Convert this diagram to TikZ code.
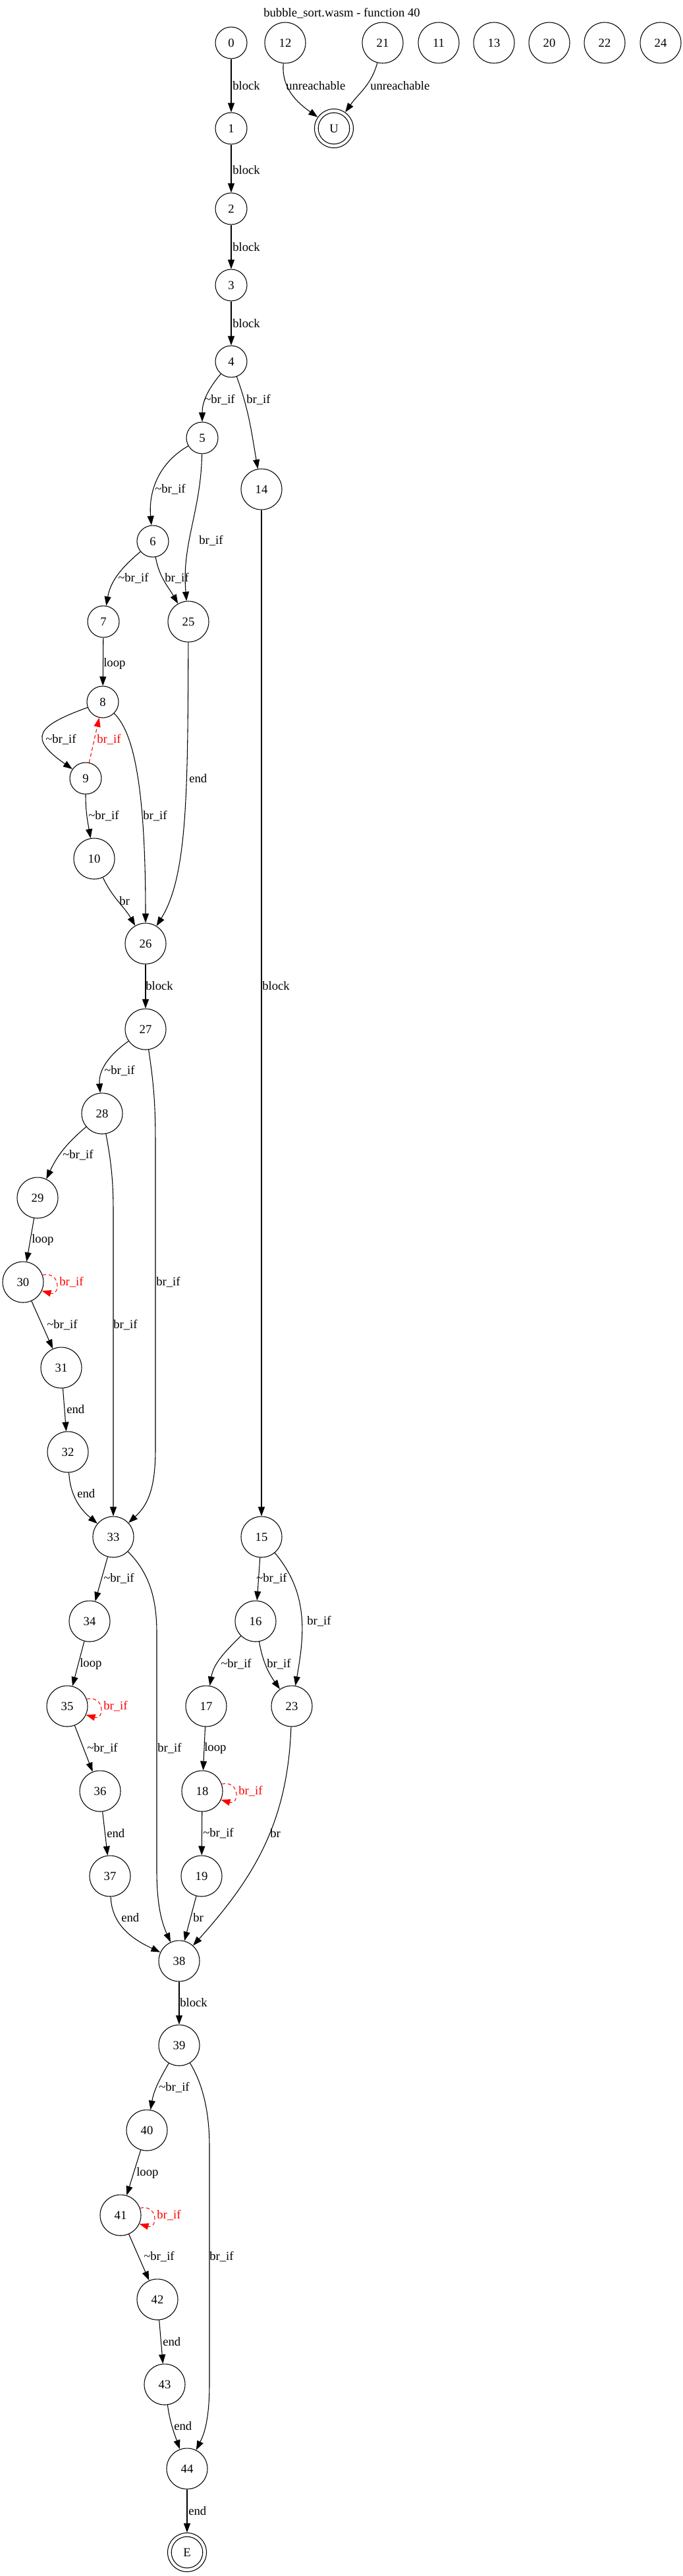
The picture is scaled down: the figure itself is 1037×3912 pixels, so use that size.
\documentclass[tikz,border=0pt]{standalone}
\usepackage{fontspec}
\setmainfont{Liberation Serif}
\usetikzlibrary{arrows.meta}

\def\ux{0.75pt}
\def\uy{-0.75pt}
\def\brif{br\_if}
\def\nbrif{\textasciitilde br\_if}

\tikzset{
  vtx/.style={circle,draw,line width=0.8pt,inner sep=0pt,minimum size=36pt},
  vtxw/.style={vtx,minimum size=46.5pt},
  vtxf/.style={circle,draw,line width=0.8pt,inner sep=0pt,minimum size=44.25pt,
    path picture={\draw[line width=0.8pt] (path picture bounding box.center) circle (17.85pt);}},
  flow/.style={line width=0.8pt,-{Triangle[length=10.5pt,width=7.5pt]}},
  rflow/.style={flow,red,dash pattern=on 4pt off 3pt},
  lbl/.style={anchor=west,inner sep=0pt},
}

\begin{document}
\begin{tikzpicture}[x=\ux,y=\uy,font=\fontsize{14pt}{16.8pt}\selectfont]
  \useasboundingbox (0,0) rectangle (1037,3912);
  \node (title) at (519,20) {bubble\_sort.wasm - function 40};

  % blocks
  \foreach \n/\x/\y in {0/351/65,1/351/195,2/351/317,3/351/433,4/351/549,5/307/665,
      6/232/822,7/157/944,8/156/1066,9/130/1182}
    \node[vtx] (n\n) at (\x,\y) {\n};
  \foreach \n/\x/\y in {12/433/65,21/581/65,11/666/65,13/750/65,20/834/65,22/918/65,24/1003/65,
      14/397/743,25/286/944,10/143/1304,26/221/1433,27/221/1563,28/155/1691,29/57/1819,
      30/35/1947,31/93/2077,32/103/2205,33/172/2334,15/397/2334,34/136/2462,16/388/2462,
      35/102/2591,17/313/2591,23/443/2591,36/152/2720,18/307/2720,37/167/2849,19/306/2849,
      38/272/2978,39/272/3106,40/223/3235,41/183/3364,42/239/3492,43/250/3621,44/284/3749}
    \node[vtxw] (n\n) at (\x,\y) {\n};
  \node[vtxf] (nU) at (507,195) {U};
  \node[vtxf] (nE) at (284,3876) {E};

  % straight edges
  \foreach \a/\b in {0/1,1/2,2/3,3/4,14/15,7/8,26/27,29/30,30/31,31/32,33/34,15/16,34/35,
      35/36,36/37,17/18,18/19,19/38,38/39,40/41,41/42,42/43,44/E}
    \draw[flow] (n\a) -- (n\b);

  % bent edges
  \draw[flow] (n12) to[out=-95,in=145] (nU);
  \draw[flow] (n21) to[out=-105,in=55] (nU);
  \draw[flow] (n4) to[out=-130,in=90] (n5);
  \draw[flow] (n4) to[out=-70,in=100] (n14);
  \draw[flow] (n5) to[out=-150,in=95] (n6);
  \draw[flow] (n5) to[out=-91,in=95] (n25);
  \draw[flow] (n6) to[out=-140,in=80] (n7);
  \draw[flow] (n6) to[out=-80,in=120] (n25);
  \draw[flow] (n8) to[out=-160,in=145,looseness=2.2] (n9);
  \draw[rflow] (n9) -- (n8);
  \draw[flow] (n8) .. controls (200,1110) and (221,1180) .. (n26);
  \draw[flow] (n9) to[out=-90,in=100] (n10);
  \draw[flow] (n10) to[out=-65,in=120] (n26);
  \draw[flow] (n25) .. controls (285,1200) and (285,1330) .. (n26);
  \draw[flow] (n27) to[out=-145,in=95] (n28);
  \draw[flow] (n27) .. controls (234,1650) and (236,1680) .. (236,1740) -- (236,2200)
    .. controls (236,2260) and (225,2285) .. (n33);
  \draw[flow] (n28) to[out=-140,in=65] (n29);
  \draw[flow] (n28) .. controls (168,1760) and (172,1790) .. (172,1840) -- (n33);
  \draw[flow] (n32) to[out=-87,in=140] (n33);
  \draw[flow] (n33) .. controls (228,2390) and (238,2430) .. (238,2480) -- (238,2840)
    .. controls (238,2900) and (248,2925) .. (n38);
  \draw[flow] (n15) to[out=-50,in=80] (n23);
  \draw[flow] (n16) to[out=-135,in=80] (n17);
  \draw[flow] (n16) to[out=-80,in=125] (n23);
  \draw[flow] (n23) to[out=-92,in=48] (n38);
  \draw[flow] (n37) to[out=-88,in=155] (n38);
  \draw[flow] (n39) to[out=-120,in=80] (n40);
  \draw[flow] (n39) .. controls (305,3160) and (318,3200) .. (318,3260) -- (318,3620)
    .. controls (318,3680) and (308,3700) .. (n44);
  \draw[flow] (n43) to[out=-82,in=110] (n44);

  % loops back to self
  \foreach \n in {30,35,18,41}
    \draw[rflow] (n\n.20) .. controls +(28,-6) and +(28,8) .. (n\n.-25);

  % labels
  \foreach \x/\y/\t [count=\i] in {353/130/block,434/130/unreachable,562/130/unreachable,
      353/258/block,353/375/block,353/491/block,310/607/\nbrif,374/607/\brif,
      235/743/\nbrif,302/821/\brif,179/878/\nbrif,250/878/\brif,157/1008/loop,
      69/1123/\nbrif,287/1182/end,134/1239/\nbrif,217/1239/\brif,181/1368/br,
      221/1497/block,398/1497/block,158/1626/\nbrif,95/1754/\nbrif,48/1883/loop,
      237/1947/\brif,71/2012/\nbrif,172/2012/\brif,101/2140/end,117/2268/end,
      157/2397/\nbrif,389/2397/\nbrif,466/2462/\brif,121/2527/loop,335/2527/\nbrif,
      405/2527/\brif,132/2655/\nbrif,239/2655/\brif,310/2655/loop,162/2784/end,
      308/2784/\nbrif,410/2784/br,184/2912/end,293/2912/br,273/3041/block,
      241/3170/\nbrif,207/3300/loop,218/3427/\nbrif,318/3427/\brif,247/3556/end,
      264/3684/end,286/3813/end}
    \node[lbl] (lab\i) at (\x,\y) {\t};
  \foreach \x/\y [count=\i] in {147/1123,90/1947,157/2591,362/2720,238/3364}
    \node[lbl,red] (rlab\i) at (\x,\y) {\brif};
\end{tikzpicture}
\end{document}
